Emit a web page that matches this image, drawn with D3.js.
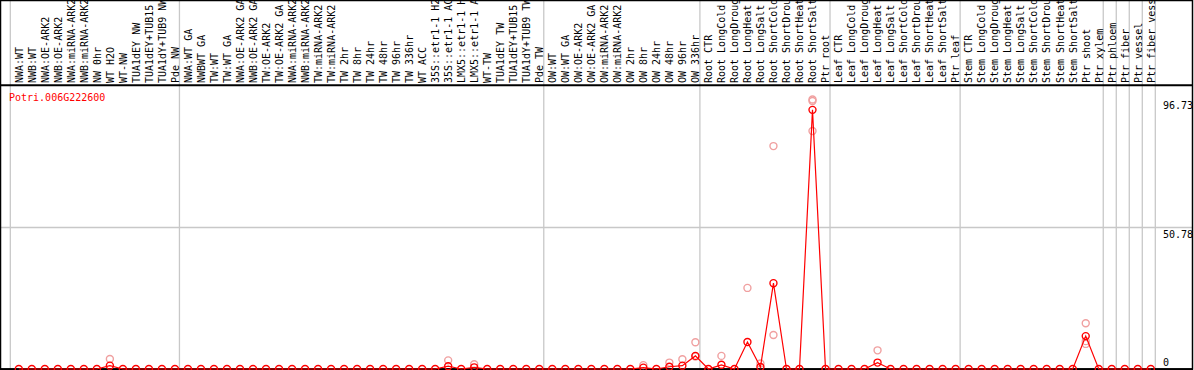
<!DOCTYPE html>
<html lang='en'>
<head>
<meta charset="utf-8">
<script src="https://d3js.org/d3.v7.min.js"></script>
<style>
body { margin: 0; background: #fff; }
svg text { font-family: "DejaVu Sans Mono", monospace; font-size: 10px; }
</style>
</head>
<body>
<div id="chart"></div>
<script>

var geneId = "Potri.006G222600";

var samples = [
  "NWA:WT","NWB:WT","NWA:OE-ARK2","NWB:OE-ARK2","NWA:miRNA-ARK2","NWB:miRNA-ARK2","NW 0hr","WT H2O","WT-NW","TUA1dEY NW","TUA1dEY+TUB15 NW","TUA1dY+TUB9 NW","Pde NW",
  "NWA:WT GA","NWBWT GA","TW:WT","TW:WT GA","NWA:OE-ARK2 GA","NWB:OE-ARK2 GA","TW:OE-ARK2","TW:OE-ARK2 GA","NWA:miRNA-ARK2","NWB:miRNA-ARK2","TW:miRNA-ARK2","TW:miRNA-ARK2","TW 2hr","TW 8hr","TW 24hr","TW 48hr","TW 96hr","TW 336hr","WT ACC","35S::etr1-1 H2O","35S::etr1-1 ACC","LMX5::etr1-1 H2O","LMX5::etr1-1 ACC","WT-TW","TUA1dEY TW","TUA1dEY+TUB15 TW","TUA1dY+TUB9 TW","Pde TW",
  "OW:WT","OW:WT GA","OW:OE-ARK2","OW:OE-ARK2 GA","OW:miRNA-ARK2","OW:miRNA-ARK2","OW 2hr","OW 8hr","OW 24hr","OW 48hr","OW 96hr","OW 336hr",
  "Root CTR","Root LongCold","Root LongDrought","Root LongHeat","Root LongSalt","Root ShortCold","Root ShortDrought","Root ShortHeat","Root ShortSalt","Ptr root",
  "Leaf CTR","Leaf LongCold","Leaf LongDrought","Leaf LongHeat","Leaf LongSalt","Leaf ShortCold","Leaf ShortDrought","Leaf ShortHeat","Leaf ShortSalt","Ptr leaf",
  "Stem CTR","Stem LongCold","Stem LongDrought","Stem LongHeat","Stem LongSalt","Stem ShortCold","Stem ShortDrought","Stem ShortHeat","Stem ShortSalt","Ptr shoot","Ptr xylem",
  "Ptr phloem","Ptr fiber","Ptr vessel","Ptr fiber vessel"
];

var groupSizes = [13, 28, 12, 10, 10, 11, 1, 1, 1, 1];

// mean expression per sample (dark circles + line)
var means = [
  0,0,0,0,0,0,0,1.2,0,0,0,0,0,
  0,0,0,0,0,0,0,0,0,0,0,0,0,0,0,0,0,0,0,0,1.0,0,0.6,0,0,0,0,0,
  0,0,0,0,0,0,0,0.5,0,0.8,1.2,4.7,
  0,1.5,0,9.7,0.7,30.8,0,0,93.0,0,
  0,0,0,2.3,0,0,0,0,0,0,
  0,0,0,0,0,0,0,0,0,11.8,0,
  0,0,0,0
];

// replicate values (light circles), only samples with visible replicates
var repSample = [7, 33, 35, 48, 50, 51, 52, 52, 54, 56, 57, 58, 58, 61, 61, 61, 66, 82, 82, 82];
var repValue  = [3.6, 3.1, 1.7, 1.4, 2.3, 3.5, 9.6, 4.5, 4.7, 29.1, 2.0, 80.0, 12.2, 96.73, 85.4, 96.2, 6.7, 16.4, 9.0, 10.0];

var yTicks = [96.73, 50.78, 0];
var yTop = 101.56;

var width = 1194, height = 370;

var svg = d3.select("#chart").append("svg")
  .attr("width", width)
  .attr("height", height);

var x = d3.scaleBand()
  .domain(d3.range(samples.length))
  .range([10.3, 1155.3]);

var y = d3.scaleLinear()
  .domain([0, yTop])
  .range([369, 86]);

// group boundaries
var bounds = [0];
groupSizes.forEach(function(n){ bounds.push(bounds[bounds.length-1] + n); });

svg.selectAll("line.sep")
  .data(bounds)
  .enter().append("line")
  .attr("class", "sep")
  .attr("x1", function(d){ return d < samples.length ? x(d) : x(samples.length-1) + x.bandwidth(); })
  .attr("x2", function(d){ return d < samples.length ? x(d) : x(samples.length-1) + x.bandwidth(); })
  .attr("y1", 0)
  .attr("y2", 369)
  .style("stroke", "#c8c8c8")
  .style("stroke-width", 1.3);

// mid gridline
svg.append("line")
  .attr("x1", 0).attr("x2", 1193)
  .attr("y1", y(yTicks[1])).attr("y2", y(yTicks[1]))
  .style("stroke", "#c8c8c8")
  .style("stroke-width", 1.3);

// sample labels
svg.selectAll("text.lab")
  .data(samples)
  .enter().append("text")
  .attr("class", "lab")
  .attr("transform", function(d, i){ return "translate(" + (x(i) + 12.3) + ",83) rotate(-90)"; })
  .text(function(d){ return d; })
  .style("fill", "#000");

// frame
svg.append("rect")
  .attr("x", 0.5).attr("y", 0.5)
  .attr("width", 1192).attr("height", 368.5)
  .style("fill", "none")
  .style("stroke", "#000")
  .style("stroke-width", 1.5);

svg.append("line")
  .attr("x1", 0).attr("x2", 1193)
  .attr("y1", 85.3).attr("y2", 85.3)
  .style("stroke", "#000").style("stroke-width", 2);

svg.append("line")
  .attr("x1", 0).attr("x2", 1193)
  .attr("y1", 369.3).attr("y2", 369.3)
  .style("stroke", "#000").style("stroke-width", 2);

// gene id
svg.append("text")
  .attr("x", 9).attr("y", 100.5)
  .text(geneId)
  .style("fill", "#ff0000");

// y labels
svg.selectAll("text.ytick")
  .data(yTicks)
  .enter().append("text")
  .attr("class", "ytick")
  .attr("x", 1163)
  .attr("y", function(d){ return Math.min(y(d) + 10, 366); })
  .text(function(d){ return d; })
  .style("fill", "#000");

var cx = function(i){ return x(i) + 8.5; };

// replicates
svg.selectAll("circle.rep")
  .data(repSample)
  .enter().append("circle")
  .attr("class", "rep")
  .attr("cx", function(d){ return cx(d); })
  .attr("cy", function(d, i){ return y(repValue[i]); })
  .attr("r", 3.5)
  .style("fill", "none")
  .style("stroke", "#f0a0a0")
  .style("stroke-width", 1.4);

// mean line
var line = d3.line()
  .x(function(d, i){ return cx(i); })
  .y(function(d){ return y(d); });

svg.append("path")
  .datum(means)
  .attr("d", line)
  .style("fill", "none")
  .style("stroke", "#ff0000")
  .style("stroke-width", 1.2);

svg.selectAll("circle.mean")
  .data(means)
  .enter().append("circle")
  .attr("class", "mean")
  .attr("cx", function(d, i){ return cx(i); })
  .attr("cy", function(d){ return y(d); })
  .attr("r", 3.5)
  .style("fill", "none")
  .style("stroke", "#ff0000")
  .style("stroke-width", 1.4);

</script>
</body>
</html>
